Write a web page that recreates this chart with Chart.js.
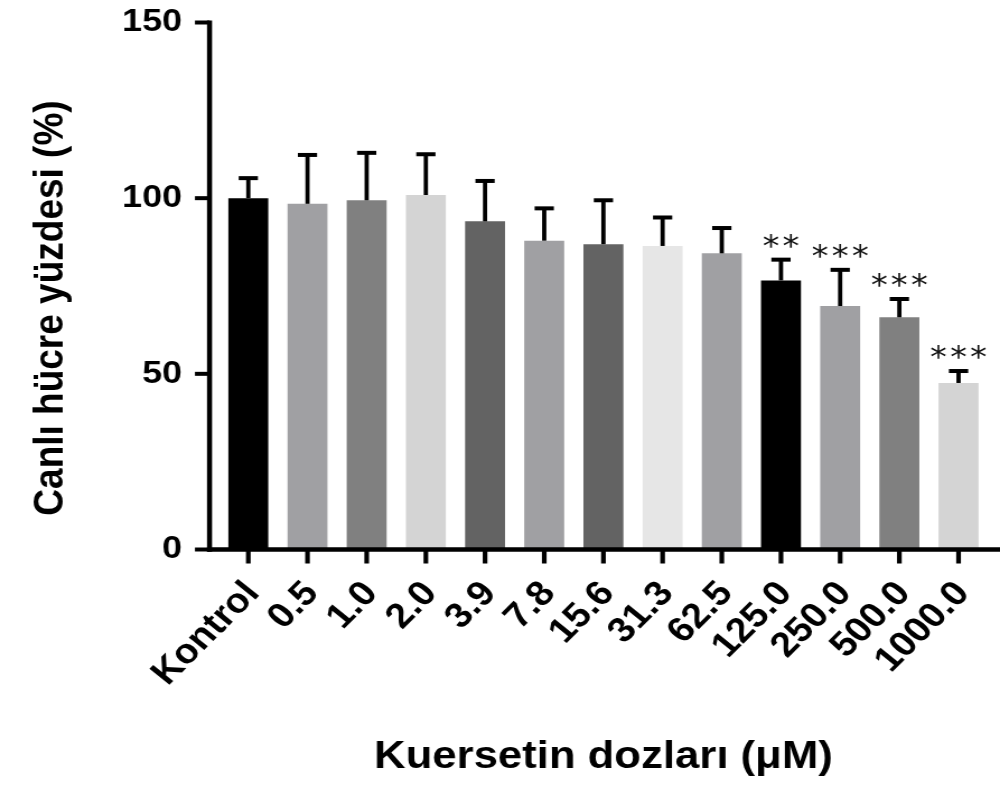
<!DOCTYPE html>
<html>
<head>
<meta charset="utf-8">
<script src="https://cdn.jsdelivr.net/npm/chart.js@4/dist/chart.umd.min.js"></script>
<style>
  html, body { margin: 0; padding: 0; background: #ffffff; overflow: hidden; }
</style>
</head>
<body>
<canvas id="c" width="893" height="787" style="display:block;width:1000px;height:787px"></canvas>
<script>
// ---- data ----
const categories = ['Kontrol', '0.5', '1.0', '2.0', '3.9', '7.8', '15.6', '31.3', '62.5', '125.0', '250.0', '500.0', '1000.0'];
const viability = [100, 98.4, 99.4, 100.9, 93.4, 87.9, 86.9, 86.4, 84.3, 76.6, 69.3, 66.1, 47.4];
const sd = [5.7, 13.9, 13.5, 11.6, 11.5, 9.2, 12.5, 8.1, 7.2, 5.9, 10.3, 5.2, 3.4];
const significance = ['', '', '', '', '', '', '', '', '', '**', '***', '***', '***'];
const yTicks = [0, 50, 100, 150];

// ---- styles ----
const barColors = ['#000000', '#a0a0a3', '#808080', '#d4d4d4', '#636363', '#a0a0a3', '#636363',
                   '#e6e6e6', '#a0a0a3', '#000000', '#a0a0a3', '#808080', '#d4d4d4'];
const FONT = '"Liberation Sans", Arial, Helvetica, sans-serif';
const yTitle = 'Canlı hücre yüzdesi (%)';
const xTitle = 'Kuersetin dozları (μM)';

const decor = {
  id: 'decor',
  afterDatasetsDraw(chart) {
    const ctx = chart.ctx;
    const xs = chart.scales.x, ys = chart.scales.y;
    const meta = chart.getDatasetMeta(0);
    ctx.save();
    ctx.fillStyle = '#000';

    // error bars (upper only)
    meta.data.forEach((bar, i) => {
      const top = ys.getPixelForValue(viability[i] + sd[i]);
      const base = ys.getPixelForValue(viability[i]);
      const lw = 3.8, capW = 17.2, capH = 4;
      ctx.fillRect(bar.x - lw / 2, top, lw, base - top);
      ctx.fillRect(bar.x - capW / 2, top - capH / 2, capW, capH);
    });

    // axes
    const axisX = chart.chartArea.left - 8.2;
    const y0 = ys.getPixelForValue(0);
    const yTop = ys.getPixelForValue(150);
    ctx.fillRect(axisX - 2.25, yTop - 2, 4.5, y0 - yTop + 4.25);
    yTicks.forEach(v => {
      const py = ys.getPixelForValue(v);
      ctx.fillRect(axisX - 13, py - 2, 13, 4);
    });
    ctx.fillRect(axisX - 2.25, y0 - 2.25, chart.width - axisX + 2.25, 4.5);
    categories.forEach((c, i) => {
      const px = xs.getPixelForTick(i);
      ctx.fillRect(px - 2.1, y0, 4.2, 14);
    });

    // significance stars
    ctx.font = '30px "DejaVu Sans", sans-serif';
    ctx.fillStyle = '#111';
    ctx.textAlign = 'center';
    ctx.textBaseline = 'alphabetic';
    const m = ctx.measureText('*');
    const mid = (m.actualBoundingBoxAscent - m.actualBoundingBoxDescent) / 2;
    meta.data.forEach((bar, i) => {
      const n = significance[i].length;
      if (!n) return;
      const cy = ys.getPixelForValue(viability[i] + sd[i]) - 19;
      const step = 17.9;
      for (let k = 0; k < n; k++) {
        const cx = bar.x + (k - (n - 1) / 2) * step;
        ctx.fillText('*', cx, cy + mid);
      }
    });

    // y axis title
    ctx.fillStyle = '#000';
    ctx.font = 'bold 37px ' + FONT;
    ctx.translate(56.3, 308);
    ctx.rotate(-Math.PI / 2);
    ctx.textAlign = 'center';
    ctx.textBaseline = 'alphabetic';
    ctx.fillText(yTitle, 0, 0);
    ctx.restore();
  }
};

new Chart(document.getElementById('c'), {
  type: 'bar',
  data: {
    labels: categories,
    datasets: [{
      data: viability,
      backgroundColor: barColors,
      borderWidth: 0,
      barPercentage: 0.675,
      categoryPercentage: 1
    }]
  },
  options: {
    responsive: false,
    devicePixelRatio: 1,
    animation: false,
    layout: { padding: { top: 22.5, right: 10.6, left: 0, bottom: 0 } },
    plugins: { legend: { display: false }, tooltip: { enabled: false } },
    scales: {
      x: {
        grid: { display: false, drawTicks: false },
        border: { display: false },
        ticks: {
          autoSkip: false, minRotation: 48, maxRotation: 48, padding: 24, labelOffset: 4,
          color: '#000', font: { family: FONT, weight: 'bold', size: 35 }
        },
        title: {
          display: true, text: xTitle, color: '#000',
          font: { family: FONT, weight: 'bold', size: 39 },
          padding: { top: 0, bottom: 6 }
        },
        afterFit(s) { s.height = 237.5; s.paddingLeft = 0; s.paddingRight = 0; }
      },
      y: {
        min: 0, max: 150,
        grid: { display: false, drawTicks: false },
        border: { display: false },
        afterBuildTicks(s) { s.ticks = yTicks.map(v => ({ value: v })); },
        ticks: { padding: 32.8, color: '#000', font: { family: FONT, weight: 'bold', size: 32 } },
        afterFit(s) { s.width = 195.3; s.paddingTop = 0; s.paddingBottom = 0; }
      }
    }
  },
  plugins: [decor]
});
</script>
</body>
</html>
